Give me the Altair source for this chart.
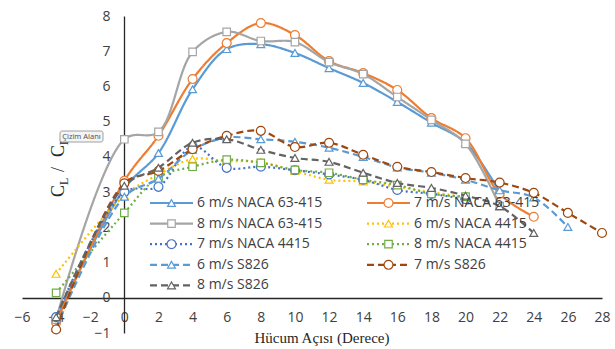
import altair as alt
import pandas as pd

# Angle of attack (degrees) for each series
ang_20 = [-4, 0, 2, 4, 6, 8, 10, 12, 14, 16, 18, 20]
ang_22 = ang_20 + [22]
ang_24 = ang_22 + [24]
ang_26 = ang_24 + [26]
ang_28 = ang_26 + [28]

# CL/CD values
naca63_6 = [-0.60, 3.10, 4.11, 5.92, 7.06, 7.20, 6.95, 6.52, 6.10, 5.56, 4.97, 4.40, 3.00]
naca63_7 = [-0.70, 3.32, 4.60, 6.21, 7.23, 7.80, 7.46, 6.72, 6.38, 5.90, 5.10, 4.53, 2.95, 2.30]
naca63_8 = [-0.62, 4.50, 4.71, 6.98, 7.55, 7.29, 7.26, 6.69, 6.35, 5.70, 5.05, 4.37, 2.60]
naca44_6 = [0.68, 2.90, 3.50, 3.94, 3.88, 3.85, 3.60, 3.35, 3.30, 3.15, 3.00, 2.85]
naca44_7 = [-0.55, 3.00, 3.15, 4.30, 3.69, 3.72, 3.62, 3.50, 3.35, 3.06, 2.95, 2.80]
naca44_8 = [0.14, 2.41, 3.43, 3.72, 3.92, 3.83, 3.63, 3.55, 3.35, 3.20, 2.95, 2.87]
s826_6 = [-0.85, 2.87, 3.38, 4.20, 4.55, 4.50, 4.43, 4.26, 4.00, 3.70, 3.55, 3.35, 3.05, 2.85, 2.01]
s826_7 = [-0.90, 3.25, 3.60, 4.22, 4.60, 4.74, 4.28, 4.40, 4.06, 3.72, 3.57, 3.40, 3.27, 2.98, 2.41, 1.84]
s826_8 = [-0.55, 3.18, 3.69, 4.40, 4.50, 4.20, 3.97, 3.86, 3.55, 3.26, 3.12, 2.90, 2.60, 1.84]

names = ["6 m/s NACA 63-415", "7 m/s NACA 63-415", "8 m/s NACA 63-415",
         "6 m/s NACA 4415", "7 m/s NACA 4415", "8 m/s NACA 4415",
         "6 m/s S826", "7 m/s S826", "8 m/s S826"]
angles = [ang_22, ang_24, ang_22, ang_20, ang_20, ang_20, ang_26, ang_28, ang_24]
values = [naca63_6, naca63_7, naca63_8, naca44_6, naca44_7, naca44_8, s826_6, s826_7, s826_8]

colors = ["#5B9BD5", "#ED7D31", "#A5A5A5", "#FFC000", "#4472C4", "#70AD47",
          "#5B9BD5", "#9E480E", "#636363"]
shapes = ["triangle-up", "circle", "square", "triangle-up", "circle", "square",
          "triangle-up", "circle", "triangle-up"]
SOLID, DOT, DASH = [1, 0], [2, 3], [7, 4]
dashes = [SOLID, SOLID, SOLID, DOT, DOT, DOT, DASH, DASH, DASH]
shape_size = {"triangle-up": 62, "circle": 80, "square": 56}

x_ticks = list(range(-6, 29, 2))
y_ticks = list(range(-1, 9))

TICK_FONT = "Open Sans"
TEXT_COLOR = "#404040"

x_enc = alt.X("angle:Q",
              scale=alt.Scale(domain=[-6, 28], nice=False, zero=False),
              axis=alt.Axis(values=x_ticks, title=None, grid=False, ticks=False,
                            offset=-35, labelPadding=12, labelFontSize=14,
                            labelFont=TICK_FONT, labelColor=TEXT_COLOR,
                            domainColor="#262626", domainWidth=1.3,
                            labelFlush=False, labelOverlap=False))
y_enc = alt.Y("value:Q",
              scale=alt.Scale(domain=[-1, 8], nice=False, zero=False),
              axis=alt.Axis(values=y_ticks, title=None, grid=False, ticks=False,
                            offset=-102, labelPadding=14, labelFontSize=14,
                            labelFont=TICK_FONT, labelColor=TEXT_COLOR,
                            domainColor="#262626", domainWidth=1.3,
                            labelFlush=False, labelOverlap=False))

one = pd.DataFrame({"k": [0]})
layers = []

# data series: smoothed line plus open markers
for name, ang, val, col, shp, dsh in zip(names, angles, values, colors, shapes, dashes):
    df = pd.DataFrame({"angle": ang, "value": val, "series": name})
    base = alt.Chart(df)
    layers.append(base.mark_line(interpolate="catmull-rom", color=col, strokeWidth=2.2,
                                 strokeDash=dsh).encode(x=x_enc, y=y_enc))
    layers.append(base.mark_point(shape=shp, size=shape_size[shp], filled=True, fill="white",
                                  stroke=col, strokeWidth=1.2, opacity=1)
                  .encode(x=x_enc, y=y_enc))

# legend, two columns inside the plot area (positions relative to the plot area)
for i, (name, col, shp, dsh) in enumerate(zip(names, colors, shapes, dashes)):
    c, r = i % 2, i // 2
    x0 = 128 if c == 0 else 345
    ly = 187 + r * 20.6
    lb = alt.Chart(one)
    layers.append(lb.mark_rule(color=col, strokeWidth=2.2, strokeDash=dsh)
                  .encode(x=alt.value(x0), x2=alt.value(x0 + 43), y=alt.value(ly)))
    layers.append(lb.mark_point(shape=shp, size=shape_size[shp], filled=True, fill="white",
                                stroke=col, strokeWidth=1.2, opacity=1)
                  .encode(x=alt.value(x0 + 21.5), y=alt.value(ly)))
    layers.append(lb.mark_text(text=name, align="left", baseline="middle", fontSize=14,
                               font=TICK_FONT, color=TEXT_COLOR)
                  .encode(x=alt.value(x0 + 47), y=alt.value(ly)))

# x axis title
layers.append(alt.Chart(one).mark_text(text="Hücum Açısı (Derece)", align="center",
                                        baseline="middle", fontSize=15,
                                        font="Liberation Serif", color="#262626")
              .encode(x=alt.value(300), y=alt.value(322)))

# y axis title C_L / C_D, rotated with subscripts
SERIF = "Liberation Serif"
y_title_parts = [("C", 18, 42, 181), ("L", 12, 46, 169), ("/", 18, 42, 156),
                 ("C", 18, 42, 141), ("D", 12, 46, 129)]
for txt, fs, bx, by in y_title_parts:
    layers.append(alt.Chart(one).mark_text(text=txt, align="left", baseline="alphabetic",
                                            angle=270, fontSize=fs, font=SERIF,
                                            color="#262626")
                  .encode(x=alt.value(bx), y=alt.value(by)))

# plot-area hint box
layers.append(alt.Chart(one).mark_rect(fill="#F4F4F4", stroke="#8A8A8A", strokeWidth=0.8,
                                        cornerRadius=2)
              .encode(x=alt.value(38), x2=alt.value(81), y=alt.value(115), y2=alt.value(126)))
layers.append(alt.Chart(one).mark_text(text="Çizim Alanı", align="center", baseline="middle",
                                        fontSize=7.5, font="Noto Sans", color="#555555")
              .encode(x=alt.value(59.5), y=alt.value(120.5)))

chart = alt.layer(*layers).properties(
    width=580, height=317,
    padding={"left": 22, "top": 16, "right": 13, "bottom": 16},
    autosize=alt.AutoSizeParams(type="none"),
    background="white",
).configure_view(stroke=None)

chart.save("out.html", embed_options={"renderer": "svg", "actions": False})
